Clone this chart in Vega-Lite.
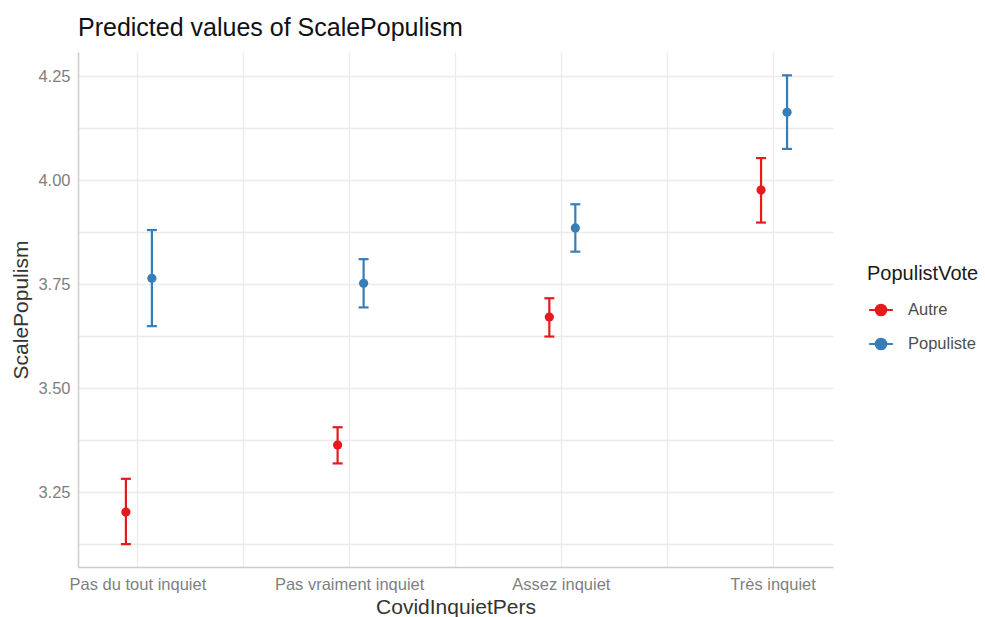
{
  "$schema": "https://vega.github.io/schema/vega-lite/v6.json",
  "autosize": "none",
  "width": 755,
  "height": 515,
  "padding": {"left": 78, "top": 52, "right": 152, "bottom": 50},
  "background": "white",
  "title": {"text": "Predicted values of ScalePopulism", "anchor": "start", "font": "Liberation Sans", "fontSize": 25, "fontWeight": "normal", "color": "#111111", "offset": 11, "frame": "group"},
  "config": {
    "view": {"stroke": null},
    "font": "Liberation Sans"
  },
  "data": {"values": [
    {"CovidInquietPers": "Pas du tout inquiet", "PopulistVote": "Autre", "predicted": 3.202, "low": 3.125, "high": 3.282},
    {"CovidInquietPers": "Pas du tout inquiet", "PopulistVote": "Populiste", "predicted": 3.764, "low": 3.649, "high": 3.880},
    {"CovidInquietPers": "Pas vraiment inquiet", "PopulistVote": "Autre", "predicted": 3.363, "low": 3.319, "high": 3.406},
    {"CovidInquietPers": "Pas vraiment inquiet", "PopulistVote": "Populiste", "predicted": 3.752, "low": 3.694, "high": 3.810},
    {"CovidInquietPers": "Assez inquiet", "PopulistVote": "Autre", "predicted": 3.671, "low": 3.624, "high": 3.716},
    {"CovidInquietPers": "Assez inquiet", "PopulistVote": "Populiste", "predicted": 3.885, "low": 3.828, "high": 3.942},
    {"CovidInquietPers": "Très inquiet", "PopulistVote": "Autre", "predicted": 3.976, "low": 3.898, "high": 4.053},
    {"CovidInquietPers": "Très inquiet", "PopulistVote": "Populiste", "predicted": 4.163, "low": 4.075, "high": 4.252}
  ]},
  "encoding": {
    "x": {"field": "CovidInquietPers", "type": "nominal",
      "sort": ["Pas du tout inquiet", "Pas vraiment inquiet", "Assez inquiet", "Très inquiet"],
      "scale": {"paddingInner": 0.5, "paddingOuter": 0.033}, "axis": null},
    "xOffset": {"field": "PopulistVote", "type": "nominal", "scale": {"range": [27.9, 79.9]}},
    "color": {"field": "PopulistVote", "type": "nominal",
      "scale": {"domain": ["Autre", "Populiste"], "range": ["#E41A1C", "#377EB8"]},
      "legend": {"title": "PopulistVote", "orient": "none", "legendX": 789, "legendY": 212,
        "titleFontSize": 20, "titleFontWeight": "normal", "titleColor": "#1a1a1a", "titlePadding": 13,
        "labelFontSize": 16.5, "labelColor": "#4d4d4d", "labelOffset": 14, "rowPadding": 11,
        "symbolType": "M-1,0H1M0.45,0A0.45,0.45 0 1,1 -0.45,0A0.45,0.45 0 1,1 0.45,0",
        "symbolSize": 560, "symbolStrokeWidth": 2, "symbolOpacity": 1, "symbolOffset": 1,
        "encode": {"symbols": {"update": {"stroke": {"scale": "color", "field": "value"}, "fill": {"scale": "color", "field": "value"}, "opacity": {"value": 1}}}}}}
  },
  "layer": [
    {
      "mark": {"type": "rule", "opacity": 0},
      "encoding": {
        "y": {"field": "predicted", "type": "quantitative"},
        "x": {"field": "CovidInquietPers", "type": "nominal",
          "sort": ["Pas du tout inquiet", "Pas vraiment inquiet", "Assez inquiet", "Très inquiet"],
          "axis": {"orient": "bottom", "values": ["Pas du tout inquiet", "Pas vraiment inquiet", "Assez inquiet"], "bandPosition": 1.5, "grid": true, "gridColor": "#ebebeb", "gridWidth": 1.3, "labels": false, "ticks": false, "domain": false, "title": null}}
      }
    },
    {
      "mark": {"type": "rule", "strokeWidth": 2.2},
      "encoding": {
        "y": {"field": "low", "type": "quantitative",
          "scale": {"domain": [3.07, 4.308], "nice": false, "zero": false},
          "axis": {"title": "ScalePopulism", "values": [3.125, 3.25, 3.375, 3.5, 3.625, 3.75, 3.875, 4, 4.125, 4.25],
            "labelExpr": "(datum.value * 100) % 25 == 0 ? format(datum.value, '.2f') : ''",
            "grid": true, "gridColor": "#ebebeb", "gridWidth": 1.3, "ticks": false,
            "domain": true, "domainColor": "#cccccc", "domainWidth": 1.5,
            "labelFontSize": 16.5, "labelColor": "#7f7f7f", "labelPadding": 8,
            "titleFontSize": 21, "titleFontWeight": "normal", "titleColor": "#333333", "titlePadding": 6}},
        "y2": {"field": "high"},
        "x": {"field": "CovidInquietPers", "type": "nominal",
          "sort": ["Pas du tout inquiet", "Pas vraiment inquiet", "Assez inquiet", "Très inquiet"],
          "axis": {"orient": "bottom", "title": "CovidInquietPers", "labelAngle": 0, "grid": true, "gridColor": "#ebebeb", "gridWidth": 1.3, "ticks": false,
            "domain": true, "domainColor": "#cccccc", "domainWidth": 1.5,
            "labelFontSize": 16.5, "labelColor": "#7f7f7f", "labelPadding": 9,
            "titleFontSize": 21, "titleFontWeight": "normal", "titleColor": "#333333", "titlePadding": 4}}
      }
    },
    {
      "mark": {"type": "tick", "orient": "horizontal", "size": 10, "thickness": 2.2, "opacity": 1},
      "encoding": {"y": {"field": "low", "type": "quantitative"}}
    },
    {
      "mark": {"type": "tick", "orient": "horizontal", "size": 10, "thickness": 2.2, "opacity": 1},
      "encoding": {"y": {"field": "high", "type": "quantitative"}}
    },
    {
      "mark": {"type": "point", "filled": true, "size": 85, "opacity": 1},
      "encoding": {"y": {"field": "predicted", "type": "quantitative"}}
    }
  ],
  "resolve": {"axis": {"x": "independent"}}
}
